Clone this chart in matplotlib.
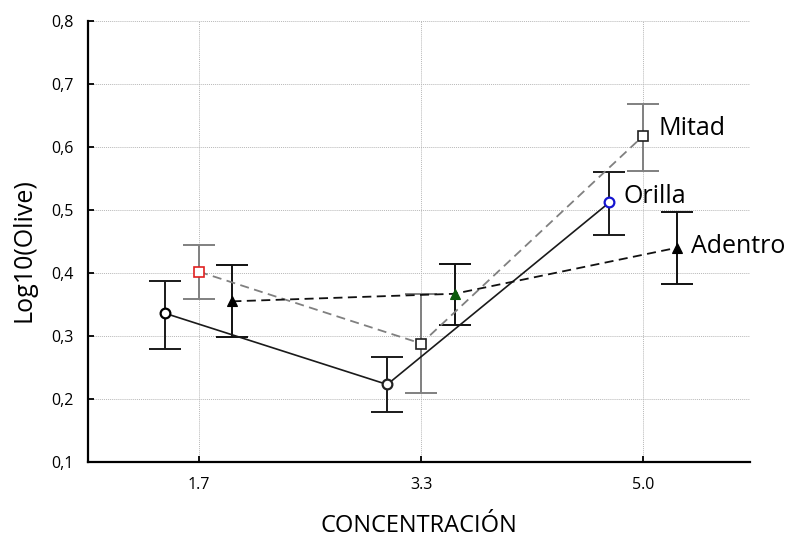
import numpy as np
import matplotlib
matplotlib.use("Agg")
import matplotlib.pyplot as plt

plt.rcParams['font.family'] = ['Open Sans', 'DejaVu Sans']

categories = ["1.7", "3.3", "5.0"]

orilla = [0.336, 0.223, 0.512]
orilla_lo = [0.280, 0.179, 0.461]
orilla_hi = [0.388, 0.266, 0.561]

mitad = [0.402, 0.288, 0.618]
mitad_lo = [0.358, 0.210, 0.562]
mitad_hi = [0.445, 0.366, 0.669]

adentro = [0.355, 0.367, 0.440]
adentro_lo = [0.298, 0.318, 0.382]
adentro_hi = [0.412, 0.415, 0.497]

fig = plt.figure(figsize=(7.89, 5.37), dpi=100)
ax = fig.add_axes([0.1115, 0.1397, 0.8391, 0.8212])

x = np.arange(len(categories))


def draw_group(xpos, vals, lo, hi, color, ls, lw, marker, faces, edges, msize, mew):
    vals = np.array(vals)
    err = [vals - np.array(lo), np.array(hi) - vals]
    ax.errorbar(xpos, vals, yerr=err, fmt='none', ecolor=color, elinewidth=1.4,
                capsize=11.5, capthick=1.4, zorder=3)
    ax.plot(xpos, vals, color=color, linestyle=ls, linewidth=lw, zorder=4)
    for xi, yi, fc, ec in zip(xpos, vals, faces, edges):
        ax.plot(xi, yi, marker=marker, markersize=msize, markerfacecolor=fc,
                markeredgecolor=ec, markeredgewidth=mew, linestyle='none', zorder=5)


draw_group(x - 0.153, orilla, orilla_lo, orilla_hi, '#1a1a1a', '-', 1.2, 'o',
           ['white'] * 3, ['black', '#222222', '#1515d0'], 7, 1.6)
draw_group(x, mitad, mitad_lo, mitad_hi, '#808080', (0, (5, 3)), 1.3, 's',
           ['white'] * 3, ['#e02020', '#202020', '#202020'], 7, 1.2)
draw_group(x + 0.15, adentro, adentro_lo, adentro_hi, '#111111', (0, (5, 3)), 1.3, '^',
           ['black', '#0a5a0a', 'black'], ['black', '#0a5a0a', 'black'], 7, 0.8)

# series names next to the last group
ax.text(2 + 0.07, mitad[2] + 0.012, "Mitad", fontsize=18, va='center', ha='left')
ax.text(2 - 0.153 + 0.063, orilla[2] + 0.009, "Orilla", fontsize=18, va='center', ha='left')
ax.text(2 + 0.15 + 0.065, adentro[2] + 0.002, "Adentro", fontsize=18, va='center', ha='left')

ax.set_xlim(-0.5, 2.48)
ax.set_ylim(0.1, 0.8)
ax.set_xticks(x)
ax.set_xticklabels(categories)
yt = np.arange(0.1, 0.81, 0.1)
ax.set_yticks(yt)
ax.set_yticklabels([f"{v:.1f}".replace('.', ',') for v in yt])
ax.tick_params(direction='in', length=4, width=1.3, labelsize=11.5, pad=10)
ax.tick_params(axis='x', pad=11)
ax.grid(True, color='#b8b8b8', linestyle=(0, (1, 1)), linewidth=0.7)
ax.set_axisbelow(True)
for side in ('top', 'right'):
    ax.spines[side].set_visible(False)
for side in ('left', 'bottom'):
    ax.spines[side].set_linewidth(1.6)

ax.set_ylabel("Log10(Olive)", fontsize=18)
ax.yaxis.set_label_coords(-0.077, 0.481)
ax.set_xlabel("CONCENTRACIÓN", fontsize=17, labelpad=15)

fig.savefig("out.png", dpi=100)
